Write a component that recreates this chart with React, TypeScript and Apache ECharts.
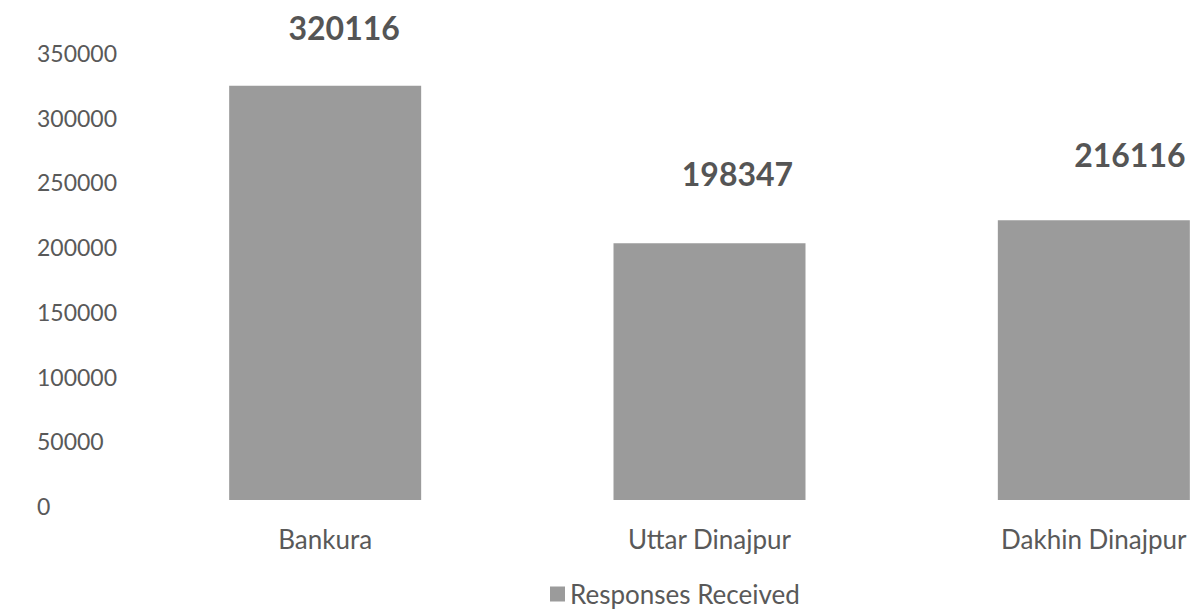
import React, { useEffect, useRef } from "react";
import * as echarts from "echarts";

const categories = ["Bankura", "Uttar Dinajpur", "Dakhin Dinajpur"];
const responses = [320116, 198347, 216116];
const seriesName = "Responses Received";

// label placement tweaks (style only)
const labelOffsets = [
  [19, 2],
  [28, -10],
  [36, -6],
];

export default function App() {
  const ref = useRef<HTMLDivElement>(null);
  useEffect(() => {
    if (!ref.current) return;
    const chart = echarts.init(ref.current, null, { renderer: "svg" });
    chart.setOption({
      animation: false,
      backgroundColor: "#ffffff",
      textStyle: { fontFamily: "Lato" },
      grid: {
        left: 133,
        top: 47,
        width: 1153,
        height: 453,
        containLabel: false,
        outerBoundsMode: "none",
      },
      legend: {
        left: 545,
        top: 576,
        itemWidth: 15,
        itemHeight: 15,
        itemGap: 4,
        icon: "rect",
        textStyle: { fontFamily: "Lato", fontSize: 26, color: "#595959", padding: [10, 0, 0, 0] },
        data: [seriesName],
      },
      xAxis: {
        type: "category",
        data: categories,
        axisLine: { show: false },
        axisTick: { show: false },
        axisLabel: { fontFamily: "Lato", fontSize: 26, color: "#595959", margin: 26 },
      },
      yAxis: {
        type: "value",
        min: 0,
        max: 350000,
        interval: 50000,
        splitLine: { show: false },
        axisLine: { show: false },
        axisTick: { show: false },
        axisLabel: {
          fontFamily: "Lato",
          fontSize: 23,
          color: "#595959",
          align: "left",
          verticalAlign: "top",
          lineHeight: 12,
          margin: 96,
          formatter: (v: number) => String(v),
        },
      },
      series: [
        {
          name: seriesName,
          type: "bar",
          data: responses.map((v, i) => ({
            value: v,
            label: { offset: labelOffsets[i] },
          })),
          barWidth: 192,
          itemStyle: { color: "#9b9b9b" },
          label: {
            show: true,
            position: "top",
            distance: 44,
            fontFamily: "Lato",
            fontWeight: "bold",
            fontSize: 32,
            color: "#555555",
          },
        },
      ],
    });
    return () => chart.dispose();
  }, []);
  return (
    <div
      ref={ref}
      style={{ position: "fixed", left: 0, top: 0, width: 1193, height: 614 }}
    />
  );
}
